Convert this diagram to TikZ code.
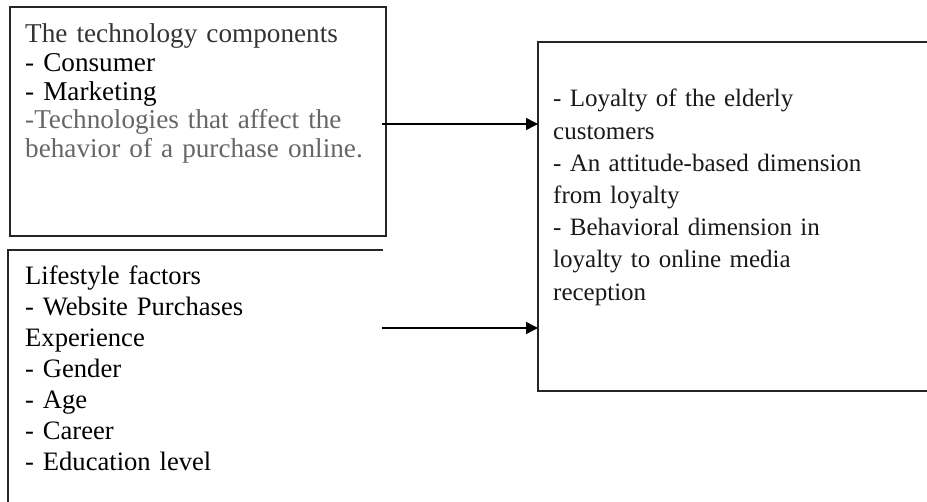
\documentclass[tikz,border=0pt]{standalone}
\usepackage{fontspec}
\setmainfont{Liberation Serif}
\usetikzlibrary{arrows.meta}
\begin{document}
\begin{tikzpicture}[x=1pt,y=-1pt,
  frame/.style={draw=black!85,line width=1.1pt},
  area/.style={inner sep=0pt,outer sep=0pt,anchor=north west},
  txt/.style={inner sep=0pt,anchor=base west,align=left,text width=380pt},
  link/.style={line width=1.5pt,-{Triangle[length=12pt,width=12pt]}}]
\useasboundingbox (0,0) rectangle (927,502);
% box areas
\node[area,frame,minimum width=376pt,minimum height=229pt] (tech) at (10,7) {};
\node[area,minimum width=375pt,minimum height=252pt] (life) at (8,250) {};
\node[area,minimum width=389pt,minimum height=349pt] (loyal) at (538,42) {};
% partial frames
\draw[frame] (life.south west) |- (life.north east);
\draw[frame] (loyal.north east) -| (loyal.south west) -- (loyal.south east);
% texts
\node[txt,font=\fontsize{27.2}{28.6}\selectfont] (techtxt) at (25,43)
  {\textcolor{black!80}{The technology components}\\
   - Consumer\\
   - Marketing\\
   \textcolor{black!60}{-Technologies that affect the}\\
   \textcolor{black!60}{behavior of a purchase online.}};
\node[txt,font=\fontsize{26.6}{31}\selectfont] (lifetxt) at (25,285)
  {Lifestyle factors\\
   - Website Purchases\\
   Experience\\
   - Gender\\
   - Age\\
   - Career\\
   - Education level};
\node[txt,font=\fontsize{25}{32.2}\selectfont,text=black!90] (loyaltxt) at (553,107)
  {- Loyalty of the elderly\\
   customers\\
   - An attitude-based dimension\\
   from loyalty\\
   - Behavioral dimension in\\
   loyalty to online media\\
   reception};
% connectors
\coordinate (a1) at (382,124);
\coordinate (a2) at (382,328);
\draw[link] (a1) -- (a1 -| loyal.west);
\draw[link] (a2) -- (a2 -| loyal.west);
\end{tikzpicture}
\end{document}
